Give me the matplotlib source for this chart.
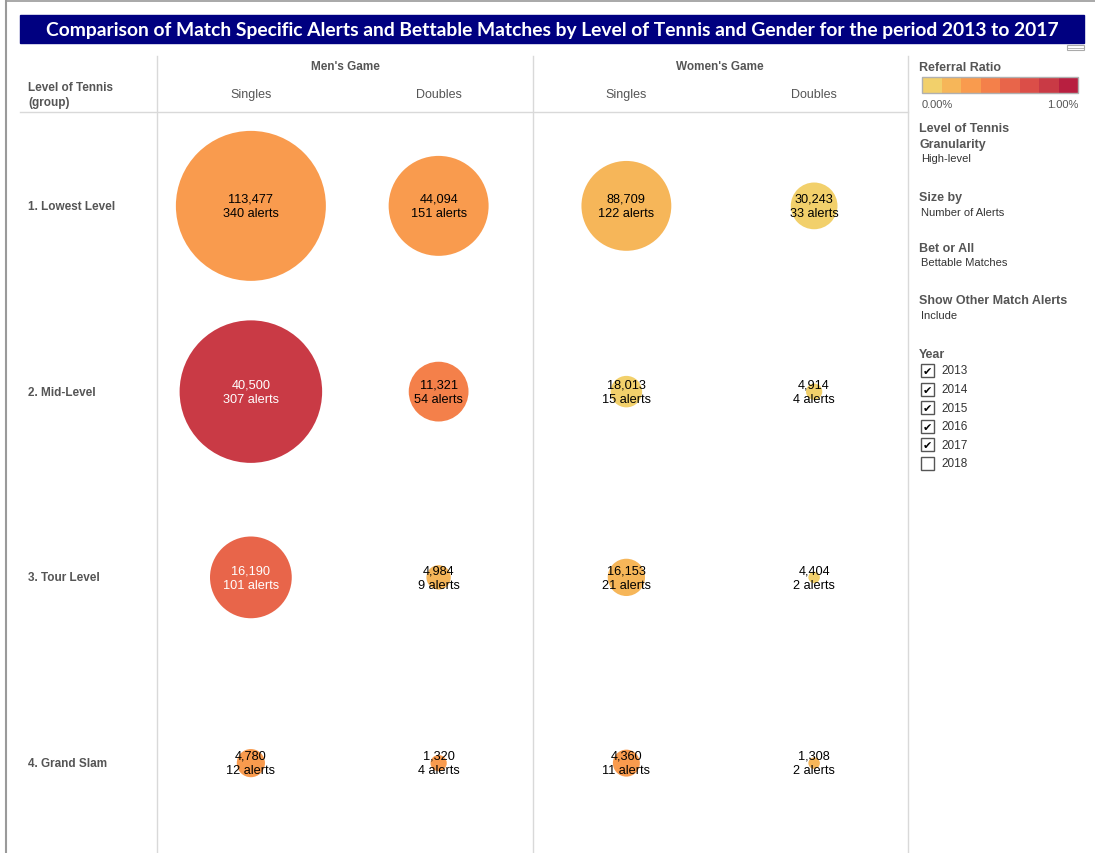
import matplotlib
matplotlib.use("Agg")
import matplotlib.pyplot as plt
from matplotlib.colors import ListedColormap, BoundaryNorm
from matplotlib.patches import Rectangle
import numpy as np

plt.rcParams['font.family'] = ['Liberation Sans', 'DejaVu Sans']

# data
levels = ['1. Lowest Level', '2. Mid-Level', '3. Tour Level', '4. Grand Slam']
columns = ["Men's Singles", "Men's Doubles", "Women's Singles", "Women's Doubles"]
sub_labels = ['Singles', 'Doubles', 'Singles', 'Doubles']
games = ["Men's Game", "Women's Game"]

# rows = levels, cols = columns
matches = np.array([
    [113477, 44094, 88709, 30243],
    [40500, 11321, 18013, 4914],
    [16190, 4984, 16153, 4404],
    [4780, 1320, 4360, 1308],
])
alerts = np.array([
    [340, 151, 122, 33],
    [307, 54, 15, 4],
    [101, 9, 21, 2],
    [12, 4, 11, 2],
])

palette = ['#F2D06B', '#F6B659', '#F99B4E', '#F4804A',
           '#E8654A', '#DB4E48', '#C93A45', '#B81F40']
years = [2013, 2014, 2015, 2016, 2017, 2018]
years_checked = [True, True, True, True, True, False]

W, H = 1095, 854
fig = plt.figure(figsize=(W / 100, H / 100), dpi=100)

# background axes in pixel coords for the dashboard furniture
bg = fig.add_axes([0, 0, 1, 1])
bg.set_xlim(0, W)
bg.set_ylim(H, 0)
bg.axis('off')

gray_line = '#d9d9d9'
label_col = '#555555'

# outer frame
bg.plot([6, W], [2, 2], color='#9a9a9a', lw=1.2)
bg.plot([6, 6], [2, H], color='#9a9a9a', lw=1.5)

# title banner
bg.add_patch(Rectangle((20, 16), 1064, 28, color='#000080'))
bg.text(552, 30.5, 'Comparison of Match Specific Alerts and Bettable Matches by Level of Tennis and Gender for the period 2013 to 2017',
        color='white', fontsize=13.9, fontweight='bold', family='Lato', ha='center', va='center')
# small icon top right
bg.add_patch(Rectangle((1067, 46), 17, 5, fill=False, ec='#aaaaaa', lw=0.8))
bg.plot([1067, 1084], [48.5, 48.5], color='#aaaaaa', lw=0.6)

# grid lines
for x in (157, 533, 908):
    bg.plot([x, x], [57, H], color=gray_line, lw=1)
bg.plot([20, 908], [113, 113], color=gray_line, lw=1)

# headers
bg.text(28, 95.5, 'Level of Tennis\n(group)', fontsize=8.5, fontweight='bold', color=label_col,
        ha='left', va='center', linespacing=1.38)
for g, cx in zip(games, (345, 720)):
    bg.text(cx, 67, g, fontsize=8.5, fontweight='bold', color=label_col, ha='center', va='center')

# main grid axes (rows span y=114..857 px)
top, bot = 114, 857
ax = fig.add_axes([157 / W, (H - bot) / H, (908 - 157) / W, (bot - top) / H])
ax.set_xlim(-0.5, 3.5)
ax.set_ylim(3.5, -0.5)
ax.axis('off')

row_px = (bot - top) / 4
col_px = (908 - 157) / 4
for j, lab in enumerate(sub_labels):
    ax.text(j, -0.5 - 19 / row_px, lab, fontsize=9, color=label_col,
            ha='center', va='center', clip_on=False)

for i, lev in enumerate(levels):
    ax.text(-0.5 - 129 / col_px, i, lev, fontsize=8.5, fontweight='bold', color=label_col,
            ha='left', va='center', clip_on=False)

ratio = alerts / matches * 100  # percent
cmap = ListedColormap(palette)
norm = BoundaryNorm(np.linspace(0, 1, 9), cmap.N)

px_per_pt = 100 / 72
diam_max_px = 150
scale = (diam_max_px / px_per_pt) ** 2 / alerts.max()

xx, yy = np.meshgrid(np.arange(4), np.arange(4))
ax.scatter(xx.ravel(), yy.ravel(), s=alerts.ravel() * scale,
           c=np.clip(ratio.ravel(), 0, 0.999), cmap=cmap, norm=norm,
           edgecolors='none', clip_on=False)

for i in range(4):
    for j in range(4):
        tc = 'white' if ratio[i, j] >= 0.5 else 'black'
        ax.text(j, i, f'{matches[i, j]:,}\n{alerts[i, j]} alerts', fontsize=9.2,
                color=tc, ha='center', va='center', linespacing=1.3)

# legend panel
lx = 919
bg.text(lx, 68, 'Referral Ratio', fontsize=9, fontweight='bold', color=label_col, va='center')
cb_x0, cb_x1, cb_y0, cb_y1 = 922, 1078, 78, 94
seg = (cb_x1 - cb_x0) / len(palette)
for k, col in enumerate(palette):
    bg.add_patch(Rectangle((cb_x0 + k * seg, cb_y0), seg, cb_y1 - cb_y0, color=col, lw=0))
bg.add_patch(Rectangle((cb_x0, cb_y0), cb_x1 - cb_x0, cb_y1 - cb_y0, fill=False, ec='#b0b0b0', lw=1))
bg.text(cb_x0, 104.5, '0.00%', fontsize=8, color=label_col, va='center', ha='left')
bg.text(cb_x1, 104.5, '1.00%', fontsize=8, color=label_col, va='center', ha='right')

filters = [
    ('Level of Tennis\nGranularity', 'High-level', 137, 159.5),
    ('Size by', 'Number of Alerts', 198.5, 212.5),
    ('Bet or All', 'Bettable Matches', 248.5, 263.5),
    ('Show Other Match Alerts', 'Include', 301.5, 316),
]
for head, val, yh, yv in filters:
    bg.text(lx, yh, head, fontsize=9, fontweight='bold', color=label_col, va='center',
            linespacing=1.38)
    bg.text(lx + 2, yv, val, fontsize=8, color='#333333', va='center')

bg.text(lx, 355.5, 'Year', fontsize=9, fontweight='bold', color=label_col, va='center')
for k, (yr, chk) in enumerate(zip(years, years_checked)):
    yc = 371.5 + k * 18.6
    bg.add_patch(Rectangle((921, yc - 6.5), 13, 13, fill=False, ec='#555555', lw=1))
    if chk:
        bg.text(927.5, yc + 0.5, '\u2714', fontsize=8, color='black', ha='center', va='center',
                family='DejaVu Sans')
    bg.text(941, yc, str(yr), fontsize=8.5, color='#333333', va='center')

fig.savefig('out.png', dpi=100)
